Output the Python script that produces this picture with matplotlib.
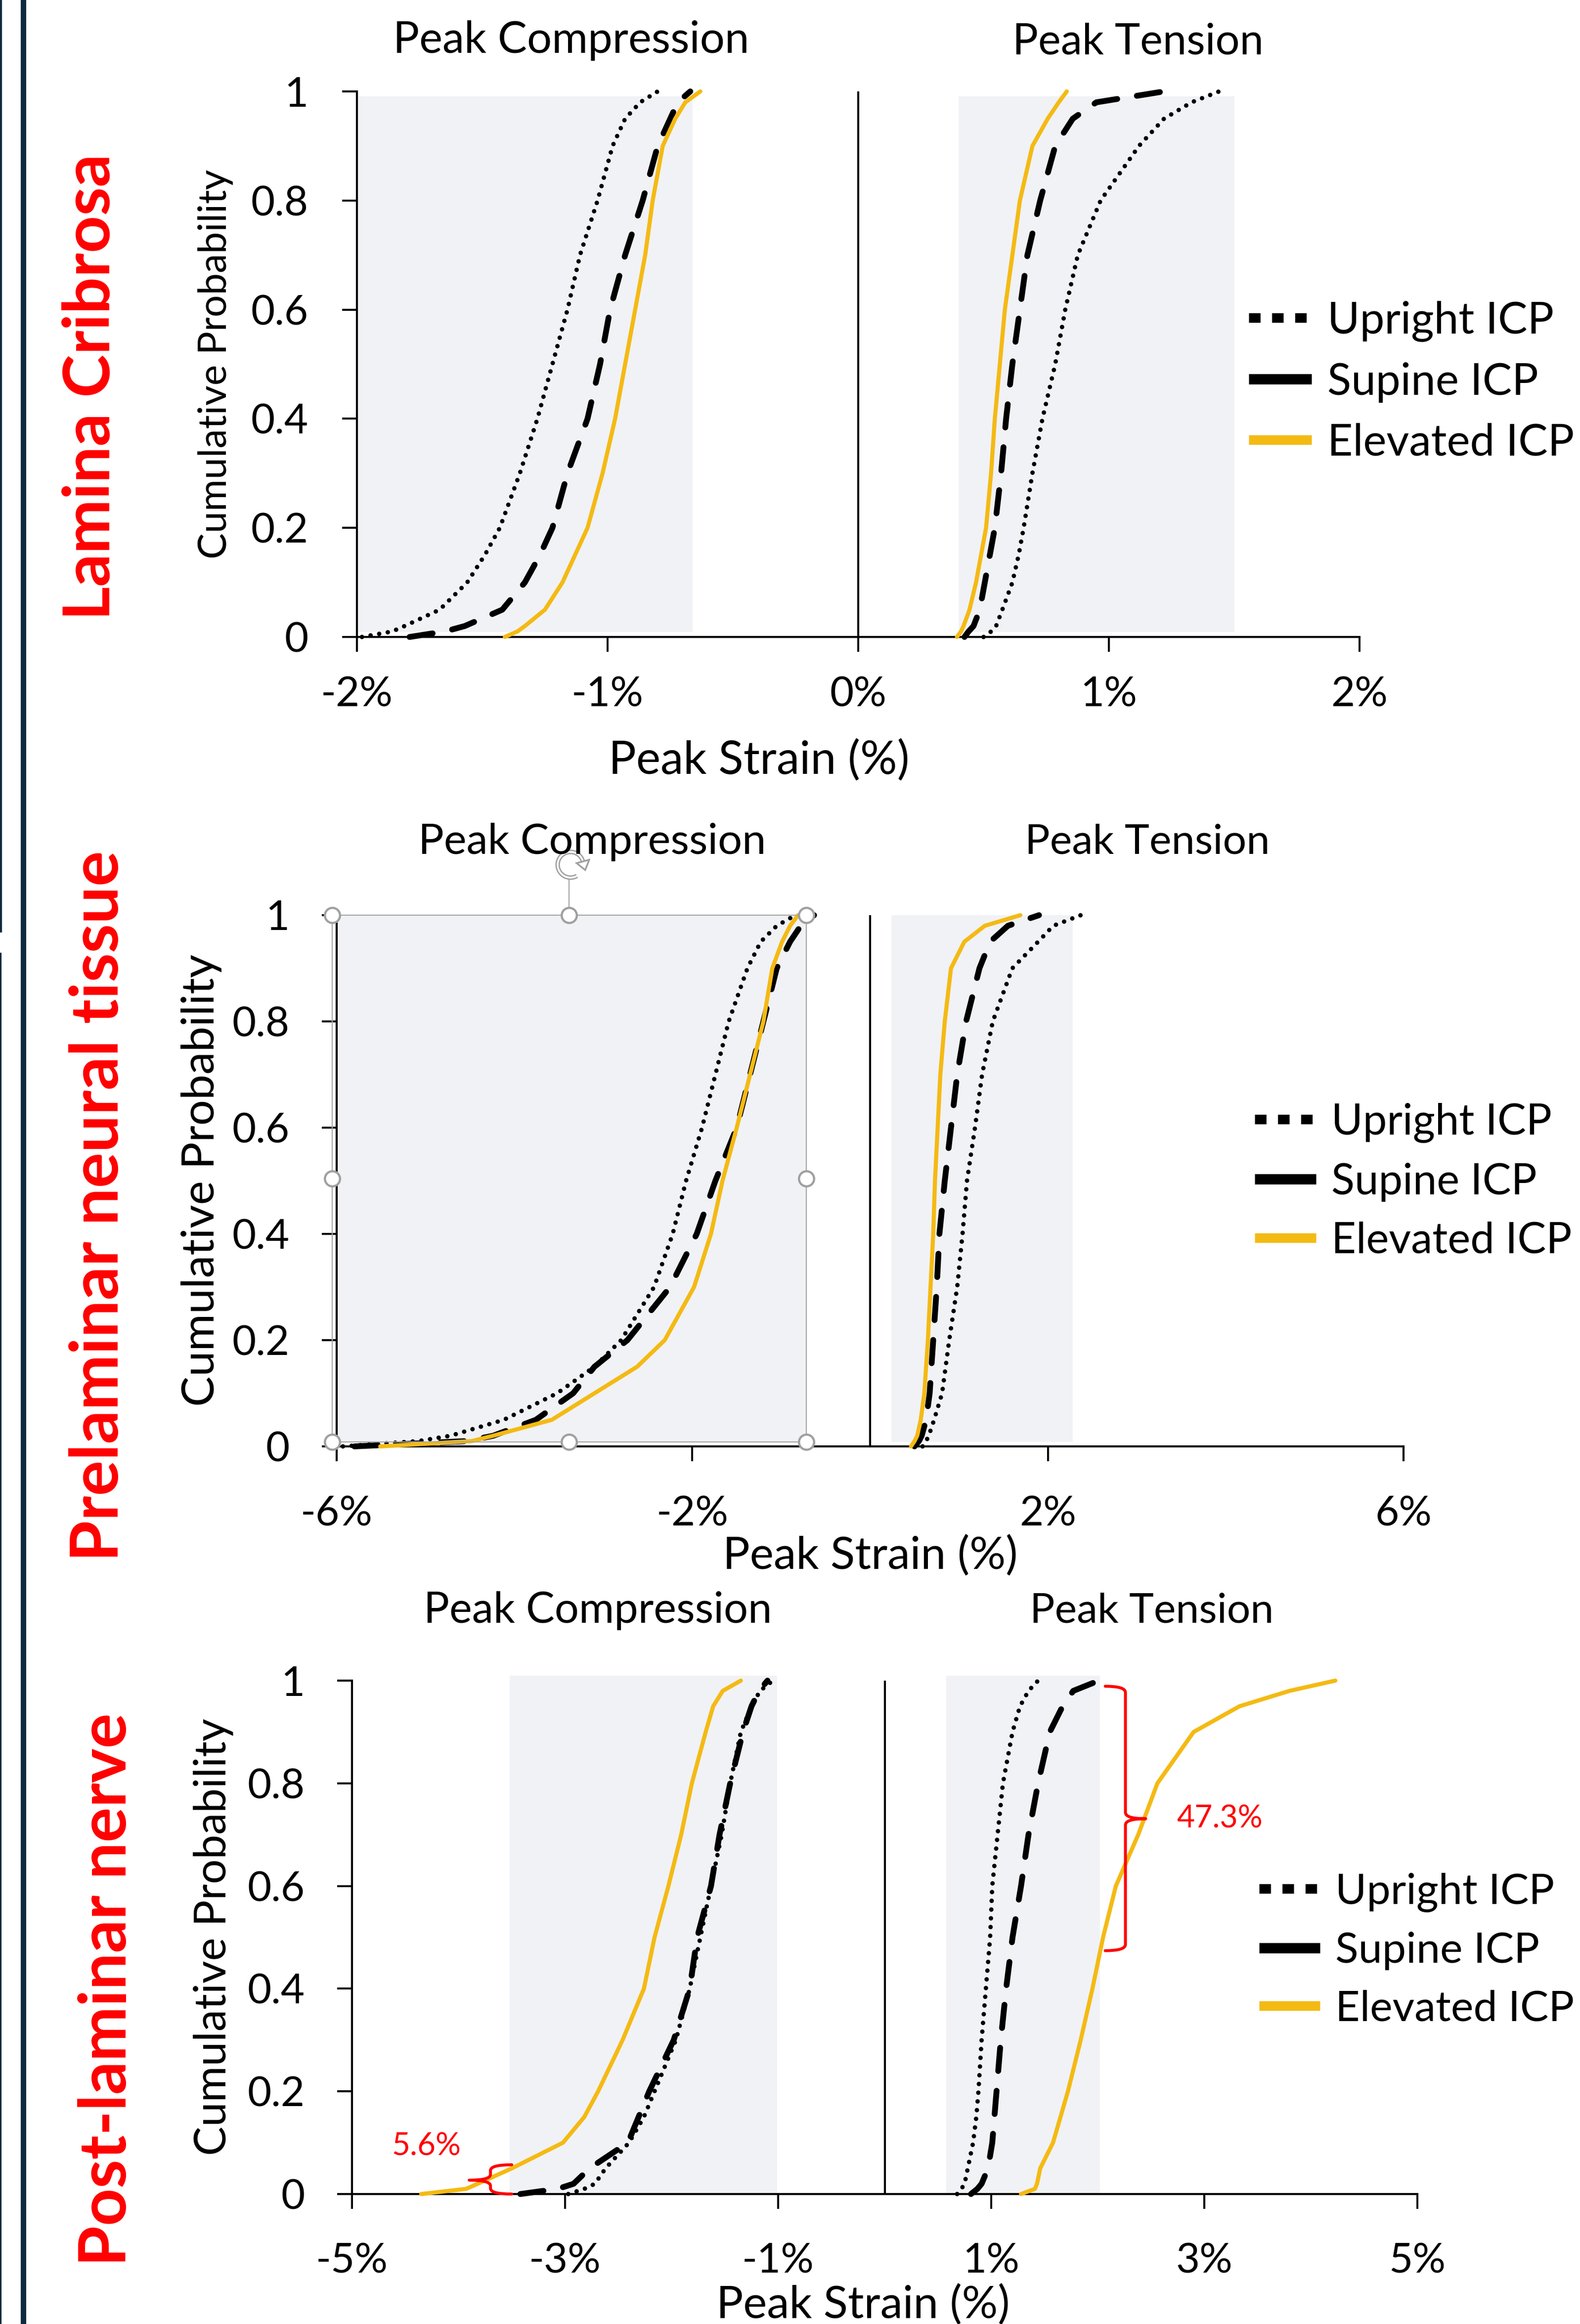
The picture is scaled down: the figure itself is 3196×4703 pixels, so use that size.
import matplotlib
matplotlib.use('Agg')
import matplotlib.pyplot as plt
from matplotlib.lines import Line2D
from matplotlib.patches import Rectangle, PathPatch, Arc, Polygon
from matplotlib.path import Path
import numpy as np

# ---------------- data ----------------
SERIES = ['Upright ICP', 'Supine ICP', 'Elevated ICP']
ROW_LABELS = ['Lamina Cribrosa', 'Prelaminar neural tissue', 'Post-laminar nerve']
SIDE_TITLES = ['Peak Compression', 'Peak Tension']
X_LABEL = 'Peak Strain (%)'
Y_LABEL = 'Cumulative Probability'

PROB = [0, 0.01, 0.02, 0.05, 0.1, 0.15, 0.2, 0.3, 0.4, 0.5, 0.6, 0.7, 0.8, 0.9, 0.95, 0.98, 1.0]

# Lamina Cribrosa (strain %, at PROB levels)
LC_COMP_UPRIGHT = [-1.98, -1.86, -1.81, -1.67, -1.56, -1.49, -1.43, -1.35, -1.28, -1.22, -1.16, -1.11, -1.04, -0.98, -0.93, -0.87, -0.80]
LC_COMP_SUPINE = [-1.79, -1.65, -1.57, -1.42, -1.33, -1.27, -1.22, -1.16, -1.08, -1.03, -0.99, -0.93, -0.86, -0.80, -0.75, -0.72, -0.67]
LC_COMP_ELEVATED = [-1.41, -1.36, -1.33, -1.25, -1.18, -1.13, -1.08, -1.02, -0.97, -0.93, -0.89, -0.85, -0.82, -0.78, -0.73, -0.69, -0.63]
LC_TENS_UPRIGHT = [0.50, 0.53, 0.55, 0.575, 0.615, 0.64, 0.66, 0.695, 0.735, 0.786, 0.826, 0.876, 0.967, 1.12, 1.22, 1.33, 1.44]
LC_TENS_SUPINE = [0.424, 0.44, 0.46, 0.485, 0.505, 0.525, 0.545, 0.57, 0.59, 0.615, 0.645, 0.675, 0.726, 0.786, 0.856, 0.95, 1.22]
LC_TENS_ELEVATED = [0.394, 0.41, 0.42, 0.444, 0.47, 0.49, 0.51, 0.53, 0.545, 0.565, 0.585, 0.615, 0.645, 0.695, 0.756, 0.80, 0.832]

# Prelaminar neural tissue
PN_COMP_UPRIGHT = [-5.93, -5.08, -4.72, -4.12, -3.52, -3.10, -2.80, -2.43, -2.22, -2.07, -1.89, -1.74, -1.59, -1.38, -1.23, -1.05, -0.84]
PN_COMP_SUPINE = [-5.80, -4.54, -4.24, -3.76, -3.34, -3.10, -2.73, -2.25, -1.95, -1.74, -1.50, -1.35, -1.20, -1.05, -0.90, -0.78, -0.63]
PN_COMP_ELEVATED = [-5.51, -4.48, -4.24, -3.58, -3.10, -2.62, -2.31, -1.98, -1.79, -1.66, -1.50, -1.35, -1.20, -1.10, -0.99, -0.90, -0.81]
PN_TENS_UPRIGHT = [0.59, 0.63, 0.66, 0.72, 0.81, 0.85, 0.89, 0.98, 1.04, 1.09, 1.18, 1.26, 1.38, 1.60, 1.89, 2.06, 2.37]
PN_TENS_SUPINE = [0.50, 0.55, 0.58, 0.63, 0.67, 0.69, 0.71, 0.75, 0.78, 0.84, 0.91, 0.98, 1.08, 1.23, 1.35, 1.55, 1.90]
PN_TENS_ELEVATED = [0.46, 0.50, 0.53, 0.57, 0.61, 0.63, 0.65, 0.68, 0.71, 0.73, 0.76, 0.79, 0.84, 0.91, 1.06, 1.29, 1.69]

# Post-laminar nerve
PL_COMP_UPRIGHT = [-2.97, -2.82, -2.72, -2.62, -2.40, -2.26, -2.16, -1.96, -1.83, -1.73, -1.63, -1.53, -1.45, -1.35, -1.25, -1.17, -1.05]
PL_COMP_SUPINE = [-3.42, -3.07, -2.92, -2.77, -2.41, -2.31, -2.21, -1.98, -1.83, -1.76, -1.63, -1.55, -1.45, -1.33, -1.25, -1.18, -1.10]
PL_COMP_ELEVATED = [-4.35, -3.93, -3.82, -3.50, -3.02, -2.82, -2.69, -2.46, -2.26, -2.16, -2.03, -1.91, -1.81, -1.68, -1.61, -1.52, -1.35]
PL_TENS_UPRIGHT = [0.68, 0.72, 0.75, 0.78, 0.83, 0.86, 0.88, 0.91, 0.95, 0.99, 1.01, 1.06, 1.11, 1.20, 1.27, 1.35, 1.44]
PL_TENS_SUPINE = [0.81, 0.87, 0.91, 0.97, 1.01, 1.03, 1.05, 1.09, 1.14, 1.20, 1.28, 1.35, 1.44, 1.55, 1.67, 1.77, 2.01]
PL_TENS_ELEVATED = [1.28, 1.41, 1.43, 1.46, 1.58, 1.65, 1.72, 1.84, 1.95, 2.05, 2.17, 2.38, 2.56, 2.90, 3.33, 3.80, 4.23]

# shaded strain ranges
LC_SHADE = [(-2.0, -0.66), (0.40, 1.50)]
PN_SHADE = [(-6.0, -0.72), (0.24, 2.28)]
PL_SHADE = [(-3.52, -1.01), (0.58, 2.02)]

LC_XTICKS = [-2, -1, 0, 1, 2]
LC_XTICKLABELS = ['-2%', '-1%', '0%', '1%', '2%']
PN_XTICKS = [-6, -2, 2, 6]
PN_XTICKLABELS = ['-6%', '-2%', '2%', '6%']
PL_XTICKS = [-5, -3, -1, 1, 3, 5]
PL_XTICKLABELS = ['-5%', '-3%', '-1%', '1%', '3%', '5%']
YTICKS = [0, 0.2, 0.4, 0.6, 0.8, 1]
YTICKLABELS = ['0', '0.2', '0.4', '0.6', '0.8', '1']

# annotations on post-laminar panel
PL_TENS_GAP_LABEL = '47.3%'
PL_COMP_GAP_LABEL = '5.6%'

# ---------------- style / layout ----------------
W, H, DPI = 3196, 4703, 100
YELLOW = '#F4BA14'
SHADE_C = '#F1F2F6'
RED = '#FF0000'
BAR = '#0F2A3F'

plt.rcParams['font.family'] = ['Lato', 'DejaVu Sans']

fig = plt.figure(figsize=(W / DPI, H / DPI), dpi=DPI)
fig.patch.set_facecolor('white')
renderer = fig.canvas.get_renderer()


def fx(x):
    return x / W


def fy(y):
    return 1 - y / H


def fit(t, target, dim='w'):
    bb = t.get_window_extent(renderer)
    cur = bb.width if dim == 'w' else bb.height
    t.set_fontsize(t.get_fontsize() * target / cur)
    return t


def size_for(s, target, base=50, weight='normal'):
    t = fig.text(0, 0, s, fontsize=base, weight=weight)
    bb = t.get_window_extent(renderer)
    t.remove()
    return base * target / bb.width


STY = [
    dict(color='black', lw=6.5, linestyle=(0, (0.01, 1.95)), dash_capstyle='round'),
    dict(color='black', lw=8.5, linestyle=(0, (4.0, 3.4)), dash_capstyle='round'),
    dict(color=YELLOW, lw=6.0, solid_capstyle='round'),
]
LEG_HANDLES = [
    Line2D([], [], color='black', lw=14, linestyle=(0, (1.2, 1.2)), dash_capstyle='butt'),
    Line2D([], [], color='black', lw=15, solid_capstyle='butt'),
    Line2D([], [], color=YELLOW, lw=14, solid_capstyle='butt'),
]

TICK_FS = size_for('-2%', 146)
LEG_FS_BASE = size_for('Upright ICP', 449)

PANELS = [
    dict(x0=722, x1=2750, ytop=185, ybot=1289, xlim=(-2, 2),
         xticks=LC_XTICKS, xtl=LC_XTICKLABELS, shade=LC_SHADE, shade_y=(0.009, 0.991),
         comp=[LC_COMP_UPRIGHT, LC_COMP_SUPINE, LC_COMP_ELEVATED],
         tens=[LC_TENS_UPRIGHT, LC_TENS_SUPINE, LC_TENS_ELEVATED],
         xpad=36, ypad=49,
         titles=[(1155, 107, 721), (2302, 110, 509)],
         row=(222, 783, 944), ylab=(458, 737, 789), xlab=(1535, 1566, 609),
         leg=(2526, 773, 458)),
    dict(x0=681, x1=2839, ytop=1852, ybot=2927, xlim=(-6, 6),
         xticks=PN_XTICKS, xtl=PN_XTICKLABELS, shade=PN_SHADE, shade_y=(0.008, 1.0),
         comp=[PN_COMP_UPRIGHT, PN_COMP_SUPINE, PN_COMP_ELEVATED],
         tens=[PN_TENS_UPRIGHT, PN_TENS_SUPINE, PN_TENS_ELEVATED],
         xpad=50, ypad=47,
         titles=[(1198, 1728, 704), (2321, 1728, 496)],
         row=(239, 2441, 1439), ylab=(433, 2389, 915), xlab=(1760, 3176, 597),
         leg=(2538, 2391, 446)),
    dict(x0=712, x1=2867, ytop=3401, ybot=4440, xlim=(-5, 5),
         xticks=PL_XTICKS, xtl=PL_XTICKLABELS, shade=PL_SHADE, shade_y=(0.0, 1.01),
         comp=[PL_COMP_UPRIGHT, PL_COMP_SUPINE, PL_COMP_ELEVATED],
         tens=[PL_TENS_UPRIGHT, PL_TENS_SUPINE, PL_TENS_ELEVATED],
         xpad=49, ypad=47,
         titles=[(1209, 3284, 705), (2330, 3284, 494)],
         row=(255, 4026, 1119), ylab=(457, 3920, 885), xlab=(1746, 4692, 594),
         leg=(2547, 3947, 443)),
]

axes = []
for i, P in enumerate(PANELS):
    ax = fig.add_axes([fx(P['x0']), fy(P['ybot']), (P['x1'] - P['x0']) / W,
                       (P['ybot'] - P['ytop']) / H])
    axes.append(ax)
    ax.set_xlim(*P['xlim'])
    ax.set_ylim(0, 1)
    ax.patch.set_alpha(0)
    for s in ['top', 'right']:
        ax.spines[s].set_visible(False)
    for s in ['left', 'bottom']:
        ax.spines[s].set_linewidth(3.0)
        ax.spines[s].set_color('black')
    ax.set_xticks(P['xticks'])
    ax.set_xticklabels(P['xtl'])
    ax.set_yticks(YTICKS)
    ax.set_yticklabels(YTICKLABELS)
    ax.tick_params(axis='both', direction='out', length=21.6, width=2.9,
                   labelsize=TICK_FS, color='black')
    ax.tick_params(axis='x', pad=P['xpad'])
    ax.tick_params(axis='y', pad=P['ypad'])

    # shaded ranges
    for a, b in P['shade']:
        sp = ax.axvspan(a, b, P['shade_y'][0], P['shade_y'][1], color=SHADE_C, lw=0, zorder=0)
        sp.set_clip_on(False)
    # zero line
    ax.axvline(0, 0, 1, color='black', lw=3.0, zorder=2)

    # curves
    for k in range(3):
        ax.plot(P['comp'][k], PROB, clip_on=False, zorder=3 + k, **STY[k])
        ax.plot(P['tens'][k], PROB, clip_on=False, zorder=3 + k, **STY[k])

    # titles
    for (cx, by, tw), s in zip(P['titles'], SIDE_TITLES):
        t = fig.text(fx(cx), fy(by), s, ha='center', va='baseline', fontsize=60)
        fit(t, tw)
    # row label
    rx, ry, rl = P['row']
    t = fig.text(fx(rx), fy(ry), ROW_LABELS[i], rotation=90, rotation_mode='anchor',
                 ha='center', va='baseline', fontsize=95, weight='bold', color=RED)
    fit(t, rl, 'h')
    # y label
    lx, ly, ll = P['ylab']
    t = fig.text(fx(lx), fy(ly), Y_LABEL, rotation=90, rotation_mode='anchor',
                 ha='center', va='baseline', fontsize=60)
    fit(t, ll, 'h')
    # x label
    xx, xy, xl = P['xlab']
    t = fig.text(fx(xx), fy(xy), X_LABEL, ha='center', va='baseline', fontsize=60)
    fit(t, xl)
    # legend
    gx, gy, gw = P['leg']
    leg = ax.legend(LEG_HANDLES, SERIES, loc='center left',
                    bbox_to_anchor=(fx(gx), fy(gy)), bbox_transform=fig.transFigure,
                    frameon=False, fontsize=LEG_FS_BASE * gw / 449,
                    handlelength=1.43, handletextpad=0.36, labelspacing=0.46,
                    borderpad=0, borderaxespad=0)


def brace(ax, x_spine, x_end, x_tip, y0, y1, ymid, r):
    verts = [(x_end, y1), (x_spine, y1), (x_spine, y1 - r),
             (x_spine, ymid + r), (x_spine, ymid), (x_tip, ymid),
             (x_spine, ymid), (x_spine, ymid - r),
             (x_spine, y0 + r), (x_spine, y0), (x_end, y0)]
    codes = [Path.MOVETO, Path.CURVE3, Path.CURVE3, Path.LINETO, Path.CURVE3, Path.CURVE3,
             Path.CURVE3, Path.CURVE3, Path.LINETO, Path.CURVE3, Path.CURVE3]
    ax.add_patch(PathPatch(Path(verts, codes), fill=False, ec=RED, lw=4.3,
                           capstyle='round', joinstyle='round', clip_on=False, zorder=8))


# annotations on post-laminar panel
ax3 = axes[2]
brace(ax3, 2.26, 2.07, 2.45, 0.474, 0.989, 0.731, 0.012)
ax3.text(2.74, 0.731, PL_TENS_GAP_LABEL, color=RED, fontsize=45, ha='left', va='center', zorder=9)
brace(ax3, -3.70, -3.50, -3.90, 0.0, 0.057, 0.027, 0.011)
ax3.text(-4.30, 0.093, PL_COMP_GAP_LABEL, color=RED, fontsize=46, ha='center', va='center', zorder=9)

# selection-box artefact on prelaminar compression panel
ax2 = axes[1]
SEL_L, SEL_R, SEL_B, SEL_T = -6.05, -0.72, 0.008, 1.0
ax2.add_patch(Rectangle((SEL_L, SEL_B), SEL_R - SEL_L, SEL_T - SEL_B, fill=False,
                        ec='#A6A6A6', lw=1.6, clip_on=False, zorder=9))
xm, ym = (SEL_L + SEL_R) / 2, (SEL_B + SEL_T) / 2
ax2.plot([xm, xm], [SEL_T, 1.072], color='#A6A6A6', lw=1.6, clip_on=False, zorder=9)
hx = [SEL_L, xm, SEL_R, SEL_L, SEL_R, SEL_L, xm, SEL_R]
hy = [SEL_T, SEL_T, SEL_T, ym, ym, SEL_B, SEL_B, SEL_B]
ax2.plot(hx, hy, 'o', ms=22, mfc='white', mec='#A0A0A0', mew=3.2, clip_on=False, zorder=10)

# rotate icon
iax = fig.add_axes([fx(1114), fy(1790), 80 / W, 80 / H])
iax.set_xlim(-1, 1)
iax.set_ylim(-1, 1)
iax.axis('off')
iax.add_patch(Arc((0, 0), 1.3, 1.3, theta1=15, theta2=300, color='#A0A0A0', lw=6.5))
iax.add_patch(Arc((0, 0), 1.3, 1.3, theta1=15, theta2=300, color='white', lw=2.6))
th = np.deg2rad(15)
p = 0.65 * np.array([np.cos(th), np.sin(th)])
d = np.array([np.sin(th), -np.cos(th)])
n = np.array([np.cos(th), np.sin(th)])
iax.add_patch(Polygon([p + d * 0.45, p + n * 0.33, p - n * 0.33], closed=True,
                      fc='white', ec='#A0A0A0', lw=2.5))

# left decorative bars
fig.add_artist(Rectangle((fx(42), 0), 11 / W, 1, transform=fig.transFigure, color=BAR, lw=0))
fig.add_artist(Rectangle((0, fy(1887)), 4 / W, 1887 / H, transform=fig.transFigure, color=BAR, lw=0))
fig.add_artist(Rectangle((0, 0), 2.5 / W, fy(1928), transform=fig.transFigure, color=BAR, lw=0))

fig.savefig('out.png', dpi=DPI, facecolor='white')
